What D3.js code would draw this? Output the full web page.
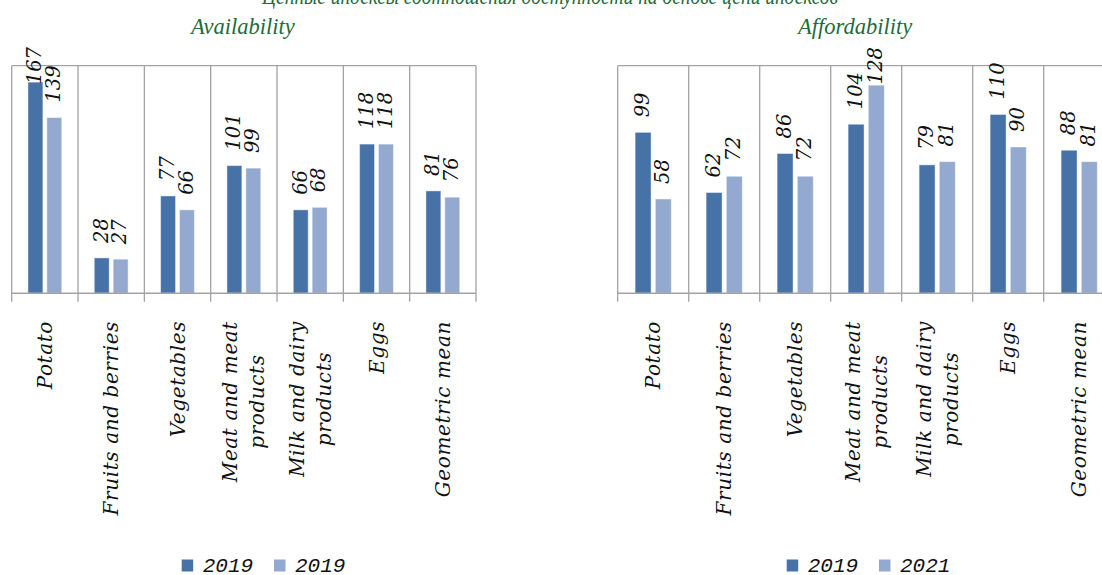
<!DOCTYPE html>
<html>
<head>
<meta charset="utf-8">
<script src="https://cdn.jsdelivr.net/npm/d3@7"></script>
<style>
  body { margin: 0; background: #fff; }
  svg { display: block; }
</style>
</head>
<body>
<script>
const categories = ["Potato", "Fruits and berries", "Vegetables", "Meat and meat products",
  "Milk and dairy products", "Eggs", "Geometric mean"]
const tickLabels = [["Potato"], ["Fruits and berries"], ["Vegetables"], ["Meat and meat", "products"],
  ["Milk and dairy", "products"], ["Eggs"], ["Geometric mean"]]

const availabilityA = [167, 28, 77, 101, 66, 118, 81]
const availabilityB = [139, 27, 66, 99, 68, 118, 76]
const affordability2019 = [99, 62, 86, 104, 79, 110, 88]
const affordability2021 = [58, 72, 72, 128, 81, 90, 81]

const availabilityLegend = ["2019", "2019"]
const affordabilityLegend = ["2019", "2021"]

const width = 1102
const height = 575
const colors = ["#4672a8", "#94a9d0"]
const gridColor = "#a3a3a3"
const green = "#1f6b3b"

const svg = d3.select("body").append("svg")
  .attr("width", width)
  .attr("height", height)

// clipped main heading at the very top
svg.append("text")
  .attr("x", 550)
  .attr("y", 4)
  .attr("text-anchor", "middle")
  .attr("textLength", 576)
  .attr("lengthAdjust", "spacingAndGlyphs")
  .style("font-family", "Liberation Serif")
  .style("font-style", "italic")
  .style("font-size", "23px")
  .style("fill", green)
  .text("Цепные индексы соотношения доступности на основе цепи индексов")

function drawPanel(p) {
  const top = 65.7, bottom = 293.3

  const x = d3.scaleBand()
    .domain(categories)
    .range([p.left, p.right])
    .paddingInner(0).paddingOuter(0)

  const xs = d3.scaleBand()
    .domain([0, 1])
    .range([0, x.bandwidth()])
    .paddingInner(0.21)
    .paddingOuter(0.86)

  const y = d3.scaleLinear().domain([0, p.yMax]).range([bottom, top])

  const g = svg.append("g")

  // title
  g.append("text")
    .attr("x", (p.left + p.right) / 2 + p.titleShift)
    .attr("y", 34)
    .attr("text-anchor", "middle")
    .style("font-family", "Liberation Serif")
    .style("font-style", "italic")
    .style("font-size", "22.5px")
    .style("fill", green)
    .text(p.title)

  // plot frame: top border, separators, baseline
  g.append("line")
    .attr("x1", p.left).attr("x2", p.right)
    .attr("y1", top).attr("y2", top)
    .attr("stroke", gridColor).attr("stroke-width", 1.3)

  const edges = categories.map(c => x(c)).concat([p.right])
  g.selectAll(".sep").data(edges).enter().append("line")
    .attr("x1", d => d).attr("x2", d => d)
    .attr("y1", top).attr("y2", bottom + 8.5)
    .attr("stroke", gridColor).attr("stroke-width", 1.3)

  // bars
  p.series.forEach((vals, si) => {
    g.selectAll(".bar" + si).data(vals).enter().append("rect")
      .attr("x", (d, i) => x(categories[i]) + xs(si))
      .attr("y", d => y(d))
      .attr("width", xs.bandwidth())
      .attr("height", d => bottom - y(d))
      .attr("fill", colors[si])
      .attr("stroke", "#ffffff")
      .attr("stroke-opacity", 0.45)
      .attr("stroke-width", 1)
  })

  g.append("line")
    .attr("x1", p.left).attr("x2", p.right)
    .attr("y1", bottom).attr("y2", bottom)
    .attr("stroke", gridColor).attr("stroke-width", 1.5)

  // value labels, rotated, kept inside the chart area
  p.series.forEach((vals, si) => {
    vals.forEach((v, i) => {
      const cx = x(categories[i]) + xs(si) + xs.bandwidth() / 2
      const t = g.append("text")
        .attr("text-anchor", "start")
        .attr("dy", "0.35em")
        .style("font-family", "DejaVu Serif")
        .style("font-style", "italic")
        .style("font-size", "19.5px")
        .style("fill", "#111")
        .text(v)
      const len = t.node().getComputedTextLength()
      const base = Math.max(y(v) - 15, 47 + len)
      t.attr("transform", `translate(${cx - 1},${base}) rotate(-90)`)
    })
  })

  // category labels
  tickLabels.forEach((lines, i) => {
    const cx = x(categories[i]) + x.bandwidth() / 2
    const tmp = lines.map(l => {
      const t = g.append("text")
        .attr("text-anchor", "middle")
        .attr("dy", "0.35em")
        .style("font-family", "DejaVu Serif")
        .style("font-style", "italic")
        .style("font-size", "20px")
        .style("letter-spacing", "0.6px")
        .style("fill", "#111")
        .text(l)
      return t
    })
    const maxLen = d3.max(tmp, t => t.node().getComputedTextLength())
    const lh = 27
    tmp.forEach((t, li) => {
      const off = (li - (lines.length - 1) / 2) * lh
      t.attr("transform", `translate(${cx + off},${321 + maxLen / 2}) rotate(-90)`)
    })
  })

  // legend
  const lg = g.append("g")
  p.legend.forEach((lab, li) => {
    lg.append("rect")
      .attr("x", p.legendX[li])
      .attr("y", 559.5)
      .attr("width", 11.5).attr("height", 12)
      .attr("fill", colors[li])
    lg.append("text")
      .attr("x", p.legendX[li] + 21)
      .attr("y", 572)
      .style("font-family", "Liberation Mono")
      .style("font-style", "italic")
      .style("font-size", "21px")
      .style("fill", "#111")
      .text(lab)
  })
}

drawPanel({
  left: 11.7, right: 476, yMax: 180,
  title: "Availability", titleShift: -1,
  series: [availabilityA, availabilityB],
  legend: availabilityLegend, legendX: [181.7, 274]
})

drawPanel({
  left: 617.7, right: 1114.7, yMax: 140,
  title: "Affordability", titleShift: -11,
  series: [affordability2019, affordability2021],
  legend: affordabilityLegend, legendX: [786.7, 879]
})
</script>
</body>
</html>
